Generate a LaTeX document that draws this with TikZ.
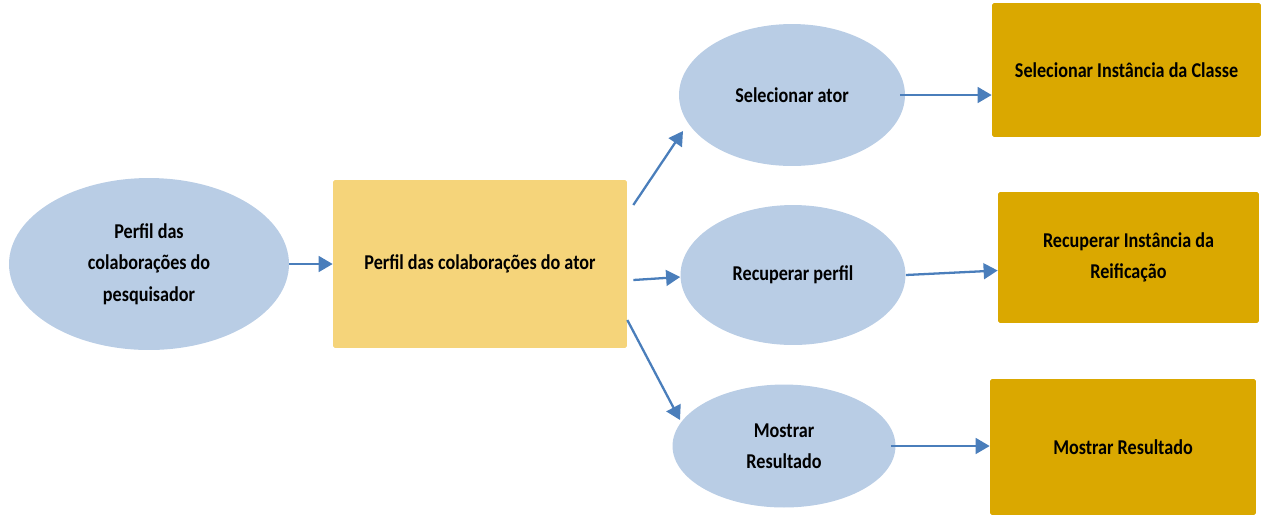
\documentclass[tikz,border=0pt]{standalone}
\usepackage{fontspec}
\setmainfont{Carlito}[FakeStretch=0.86]
\usetikzlibrary{shapes.geometric,arrows.meta}

\definecolor{azulClaro}{HTML}{B9CDE5}
\definecolor{amareloClaro}{HTML}{F5D47A}
\definecolor{ouro}{HTML}{DAA800}
\definecolor{azulSeta}{HTML}{4A7EBB}

\tikzset{
  oval/.style={ellipse, fill=azulClaro, align=center, inner sep=0pt},
  caixa/.style={rectangle, fill=amareloClaro, rounded corners=1pt, align=center, inner sep=0pt},
  acao/.style={rectangle, fill=ouro, rounded corners=1pt, align=center, inner sep=0pt},
  seta/.style={draw=azulSeta, line width=1.3pt, -{Triangle[length=8pt,width=9pt]}}
}

\begin{document}
\begin{tikzpicture}[x=0.02cm, y=-0.02cm, font=\fontsize{12}{17.8}\selectfont\bfseries]
  % Moldura (pixels da figura)
  \useasboundingbox (0,0) rectangle (1261,515);

  % Entrada
  \node[oval, minimum width=5.6cm, minimum height=3.44cm] (pesq) at (149,264)
    {Perfil das\\colaborações do\\pesquisador};
  \node[caixa, minimum width=5.88cm, minimum height=3.36cm] (perfil) at (480,264)
    {Perfil das colaborações do ator};

  % Operações
  \node[oval, minimum width=4.52cm, minimum height=2.84cm] (selAtor) at (792,95) {Selecionar ator};
  \node[oval, minimum width=4.5cm, minimum height=2.8cm] (recPerfil) at (793,275) {Recuperar perfil};
  \node[oval, minimum width=4.46cm, minimum height=2.46cm] (mostrar) at (784,446) {Mostrar\\Resultado};

  % Resultados
  \node[acao, minimum width=5.38cm, minimum height=2.68cm] (selInst) at (1126.5,70)
    {Selecionar Instância da Classe};
  \node[acao, minimum width=5.22cm, minimum height=2.62cm] (recInst) at (1128.5,257.5)
    {Recuperar Instância da\\Reificação};
  \node[acao, minimum width=5.32cm, minimum height=2.72cm] (mosRes) at (1123,447)
    {Mostrar Resultado};

  % Setas
  \draw[seta] (pesq.east) -- (perfil.west);
  \draw[seta] ([shift={(6,-59)}]perfil.east) -- ([shift={(-109,36)}]selAtor.center);
  \draw[seta] ([shift={(6,16)}]perfil.east) -- ([shift={(0,2)}]recPerfil.west);
  \draw[seta] ([shift={(0,56)}]perfil.east) -- ([shift={(-104,-26)}]mostrar.center);
  \draw[seta] ([xshift=-0.1cm]selAtor.east) -- (selAtor.east -| selInst.west);
  \draw[seta] (recPerfil.east) -- ([shift={(0,13)}]recInst.west);
  \draw[seta] ([xshift=-0.1cm]mostrar.east) -- (mostrar.east -| mosRes.west);
\end{tikzpicture}
\end{document}
